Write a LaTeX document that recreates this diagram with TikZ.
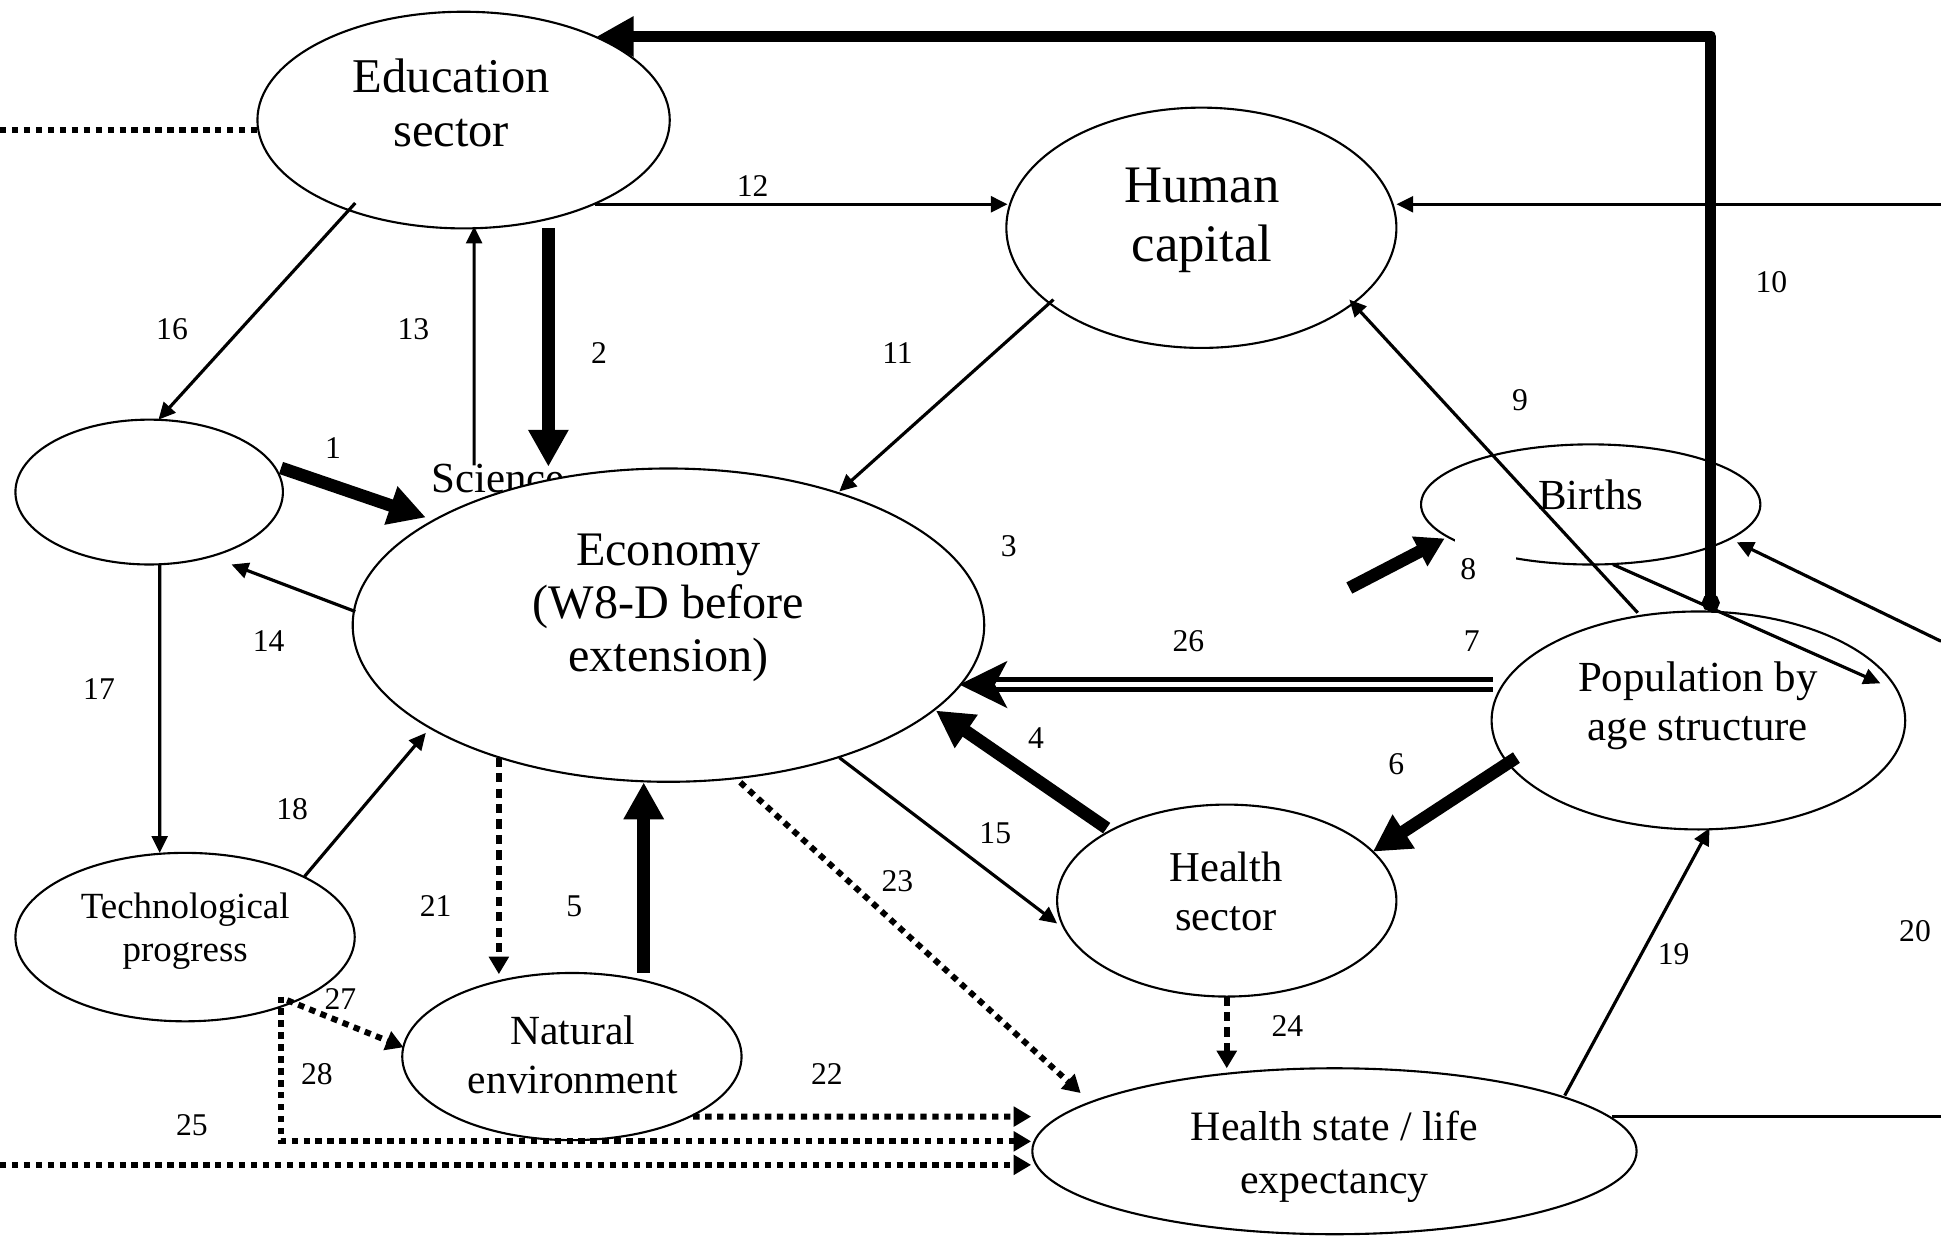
\documentclass[tikz,border=0pt]{standalone}
\usepackage{fontspec}
\setmainfont{Liberation Serif}
\usetikzlibrary{calc,arrows.meta,shapes.geometric}

\tikzset{
  oval/.style={shape=ellipse, draw, line width=0.6pt, fill=white, inner sep=0pt},
  num/.style={font=\fontsize{9}{10}\selectfont, inner sep=0pt},
  arr/.style={line width=0.9pt, -{Triangle[length=4.8pt,width=4.5pt]}},
  bigarr/.style={line width=3.6pt, -{Triangle[length=10.5pt,width=10.8pt]}},
  dotarr/.style={line width=1.7pt, dash pattern=on 1.8pt off 1.6pt, -{Triangle[length=5pt,width=5.5pt]}},
  dasharr/.style={line width=1.7pt, dash pattern=on 2.6pt off 1.8pt, -{Triangle[length=5pt,width=5.5pt]}},
}

\begin{document}
\begin{tikzpicture}[x=0.012379cm, y=-0.012379cm]
\useasboundingbox (0,0) rectangle (1568,998);

\node[name=sci, font=\fontsize{12.2}{13}\selectfont, inner sep=0pt] at (402.5,386.5) {Science};

\node[name=edu, oval, minimum width=4.122cm, minimum height=2.166cm] at (374.5,97) {};
\node[name=hum, oval, minimum width=3.899cm, minimum height=2.402cm] at (970.5,184) {};
\node[name=lft, oval, minimum width=2.674cm, minimum height=1.448cm] at (120.5,397.5) {};
\node[name=eco, oval, minimum width=6.313cm, minimum height=3.132cm] at (540,505) {};
\node[name=bir, oval, minimum width=3.392cm, minimum height=1.201cm] at (1285,407.5) {};
\node[name=pop, oval, minimum width=4.135cm, minimum height=2.179cm] at (1372,582) {};
\node[name=hsec, oval, minimum width=3.392cm, minimum height=1.919cm] at (991,727.5) {};
\node[name=tech, oval, minimum width=3.392cm, minimum height=1.684cm] at (149.5,757) {};
\node[name=nat, oval, minimum width=3.392cm, minimum height=1.671cm] at (462,853.5) {};
\node[name=hst, oval, minimum width=6.041cm, minimum height=1.659cm] at (1078,930) {};

\node[name=edu-t, font=\fontsize{13.8}{15.4}\selectfont, align=center] at (364.5,83) {Education\\sector};
\node[name=hum-t, font=\fontsize{15}{17}\selectfont, align=center] at (971,178) {Human\\capital};
\node[name=eco-t, font=\fontsize{13.7}{15.2}\selectfont, align=center] at (540,491) {Economy\\(W8-D before\\extension)};
\node[name=bir-t, font=\fontsize{12.2}{13}\selectfont] at (1285,399.6) {Births};
\node[name=pop-t, font=\fontsize{12.2}{14}\selectfont, align=center] at (1371.5,570) {Population by\\age structure};
\node[name=hsec-t, font=\fontsize{12.1}{14.1}\selectfont, align=center] at (990.5,720) {Health\\sector};
\node[name=tech-t, font=\fontsize{10.5}{12.3}\selectfont, align=center] at (149.6,752.3) {Technological\\progress};
\node[name=nat-t, font=\fontsize{11.8}{14.1}\selectfont, align=center] at (462.7,852) {Natural\\environment};
\node[name=hst-t, font=\fontsize{11.9}{15}\selectfont, align=center] at (1078,934.7) {Health state / life\\expectancy};

% loose ends at the page edges
\coordinate (a8) at (1090,475);
\coordinate (rhum) at (1568,165);
\coordinate (rbir) at (1568,518);
\coordinate (rhst) at (1568,902);
\coordinate (ledu) at (0,105);
\coordinate (lhst) at (0,941);

\node[num, name=l8, fill=white, text height=13.5pt, text depth=0.5pt, inner xsep=1.6pt] at (1200,450) {\makebox[14.3pt][l]{8}};

\draw[bigarr] ($(lft)+(106.5,-19.5)$) -- ($(eco)+(-196,-87)$);
\draw[bigarr] ($(edu)+(68.5,87)$) -- ($(sci)+(40.5,-9.5)$);
\draw[arr] ($(sci)+(-19.5,-10.5)$) -- ($(edu)+(8.5,86)$);
\draw[arr] ($(hum)+(-119.5,58)$) -- ($(eco)+(138,-108)$);
\draw[arr] ($(edu)+(106.5,68)$) -- ($(hum)+(-156.5,-19)$);
\draw[arr] (rhum) -- ($(hum)+(157.5,-19)$);
\draw[bigarr] ($(hsec)+(-97,-58.5)$) -- ($(eco)+(216,69)$);
\draw[bigarr] ($(nat)+(58,-67.5)$) -- ($(eco)+(-20,127)$);
\draw[bigarr] ($(pop)+(-147,30)$) -- ($(hsec)+(118,-39.5)$);
\draw[double, double distance=1.5pt, line width=1.3pt, -{Stealth[length=13.6pt,width=13.3pt,inset=3.5pt]}] ($(pop)+(-166,-29)$) -- ($(eco)+(235,48)$);
\draw[line width=3.6pt, -{Triangle[length=8pt,width=9pt]}] (a8) -- ($(bir)+(-118,27.5)$);
\draw[arr] ($(pop)+(-49,-87)$) -- ($(hum)+(119.5,58)$);
\draw[line width=3.2pt, line join=round, {Circle[length=5pt]}-{Triangle[length=10.5pt,width=10.8pt]}] ($(pop)+(10,-88)$) |- ($(edu)+(107.5,-67.5)$);
\draw[arr] ($(bir)+(18,48.5)$) -- ($(pop)+(147,-30)$);
\draw[arr] (rbir) -- ($(bir)+(118,30.5)$);
\draw[arr] ($(eco)+(-253,-11)$) -- ($(lft)+(66.5,58.5)$);
\draw[arr] ($(eco)+(138,107)$) -- ($(hsec)+(-137,18.5)$);
\draw[arr] ($(edu)+(-87.5,67)$) -- ($(lft)+(7.5,-58.5)$);
\draw[arr] ($(lft)+(8.5,58.5)$) -- ($(tech)+(-20.5,-68)$);
\draw[arr] ($(tech)+(96.5,-49)$) -- ($(eco)+(-196,87)$);
\draw[arr] ($(hst)+(186,-45)$) -- ($(pop)+(9,87)$);
\draw[line width=0.9pt] ($(hst)+(224,-28)$) -- (rhst);
\draw[dasharr] ($(eco)+(-137,107)$) -- ($(nat)+(-59,-66.5)$);
\draw[dotarr] ($(nat)+(98,48.5)$) -- ($(hst)+(-245,-28)$);
\draw[dotarr] ($(eco)+(58,127)$) -- ($(hst)+(-205,-47)$);
\draw[dasharr] ($(hsec)+(0,77.5)$) -- ($(hst)+(-87,-67)$);
\draw[dotarr] (lhst) -- ($(hst)+(-245,11)$);
\draw[dotarr, -] (ledu) -- ($(edu)+(-166.5,8)$);
\draw[dotarr] ($(tech)+(82.5,51)$) -- ($(nat)+(-136,-7.5)$);
\draw[dotarr] ($(tech)+(77.5,48)$) |- ($(hst)+(-245,-8)$);

\node[num, name=l1] at (269,362) {1};
\node[num, name=l2] at (484,285) {2};
\node[num, name=l3] at (815,441) {3};
\node[num, name=l4] at (837,596) {4};
\node[num, name=l5] at (464,732) {5};
\node[num, name=l6] at (1128,617) {6};
\node[num, name=l7] at (1189,518) {7};
\node[num, name=l9] at (1228,323) {9};
\node[num, name=l10] at (1431,228) {10};
\node[num, name=l11] at (725,285) {11};
\node[num, name=l12] at (608,150) {12};
\node[num, name=l13] at (334,266) {13};
\node[num, name=l14] at (217,518) {14};
\node[num, name=l15] at (804,673) {15};
\node[num, name=l16] at (139,266) {16};
\node[num, name=l17] at (80,557) {17};
\node[num, name=l18] at (236,654) {18};
\node[num, name=l19] at (1352,771) {19};
\node[num, name=l20] at (1547,752) {20};
\node[num, name=l21] at (352,732) {21};
\node[num, name=l22] at (668,868) {22};
\node[num, name=l23] at (725,712) {23};
\node[num, name=l24] at (1040,829) {24};
\node[num, name=l25] at (155,909) {25};
\node[num, name=l26] at (960,518) {26};
\node[num, name=l27] at (275,807) {27};
\node[num, name=l28] at (256,868) {28};

\end{tikzpicture}
\end{document}
